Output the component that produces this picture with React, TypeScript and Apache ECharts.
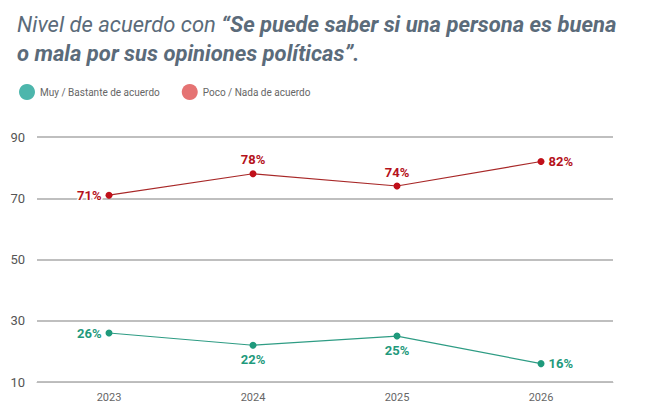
import React, { useEffect, useRef } from 'react';
import * as echarts from 'echarts';

const years = ['2023', '2024', '2025', '2026'];
const agree = [26, 22, 25, 16];
const disagree = [71, 78, 74, 82];
const agreePos = ['left', 'bottom', 'bottom', 'right'];
const disagreePos = ['left', 'top', 'top', 'right'];

const App: React.FC = () => {
  const chartRef = useRef<HTMLDivElement>(null);

  useEffect(() => {
    if (!chartRef.current) return;
    const chart = echarts.init(chartRef.current, null, { renderer: 'svg' });

    const lbl = (color: string) => ({
      show: true,
      formatter: '{c}%',
      color,
      fontFamily: 'Roboto',
      fontWeight: 'bold',
      fontSize: 13,
      textBorderColor: '#fff',
      textBorderWidth: 3,
      distance: 4,
    });

    const option: echarts.EChartsOption = {
      animation: false,
      title: {
        left: 12,
        top: 5,
        text: '{n|Nivel de acuerdo con }{b|“Se puede saber si una persona es buena}\n{b|o mala por sus opiniones políticas”.}',
        textStyle: {
          rich: {
            n: { fontFamily: 'Roboto', fontStyle: 'italic', fontWeight: 'normal', fontSize: 22, color: '#5b6b7a', lineHeight: 29 },
            b: { fontFamily: 'Roboto', fontStyle: 'italic', fontWeight: 'bold', fontSize: 22, color: '#5b6b7a', lineHeight: 29 },
          },
        },
      },
      legend: {
        left: 14,
        top: 79,
        itemWidth: 16,
        itemHeight: 16,
        itemGap: 22,
        icon: 'circle',
        textStyle: { fontFamily: 'Roboto', fontSize: 10, color: '#666' },
        data: [
          { name: 'Muy / Bastante de acuerdo', itemStyle: { color: '#4db6ac' } },
          { name: 'Poco / Nada de acuerdo', itemStyle: { color: '#e57373' } },
        ],
      },
      grid: { left: 37, right: 32, top: 137, bottom: 30 },
      xAxis: {
        type: 'category',
        data: years,
        axisLine: { lineStyle: { color: '#bbb' } },
        axisTick: { show: false },
        axisLabel: { fontFamily: 'Roboto', fontSize: 11, color: '#666', margin: 10 },
      },
      yAxis: {
        type: 'value',
        min: 10,
        max: 90,
        interval: 20,
        axisLabel: { fontFamily: 'Roboto', fontSize: 13, color: '#555', margin: 12 },
        splitLine: { lineStyle: { color: '#aaa', width: 1.5 } },
      },
      series: [
        {
          name: 'Muy / Bastante de acuerdo',
          type: 'line',
          data: agree.map((v, i) => ({ value: v, label: { position: agreePos[i] as any } })),
          symbol: 'circle',
          symbolSize: 7,
          lineStyle: { color: '#2e9c84', width: 1.2 },
          itemStyle: { color: '#1f9a7c' },
          label: lbl('#1f9a7c'),
        },
        {
          name: 'Poco / Nada de acuerdo',
          type: 'line',
          data: disagree.map((v, i) => ({ value: v, label: { position: disagreePos[i] as any } })),
          symbol: 'circle',
          symbolSize: 7,
          lineStyle: { color: '#a82828', width: 1.2 },
          itemStyle: { color: '#c0101a' },
          label: lbl('#b5121b'),
        },
      ],
    };
    chart.setOption(option);
    return () => chart.dispose();
  }, []);

  return <div ref={chartRef} style={{ position: 'fixed', left: 0, top: 0, width: 645, height: 412, background: '#fff' }} />;
};

export default App;
